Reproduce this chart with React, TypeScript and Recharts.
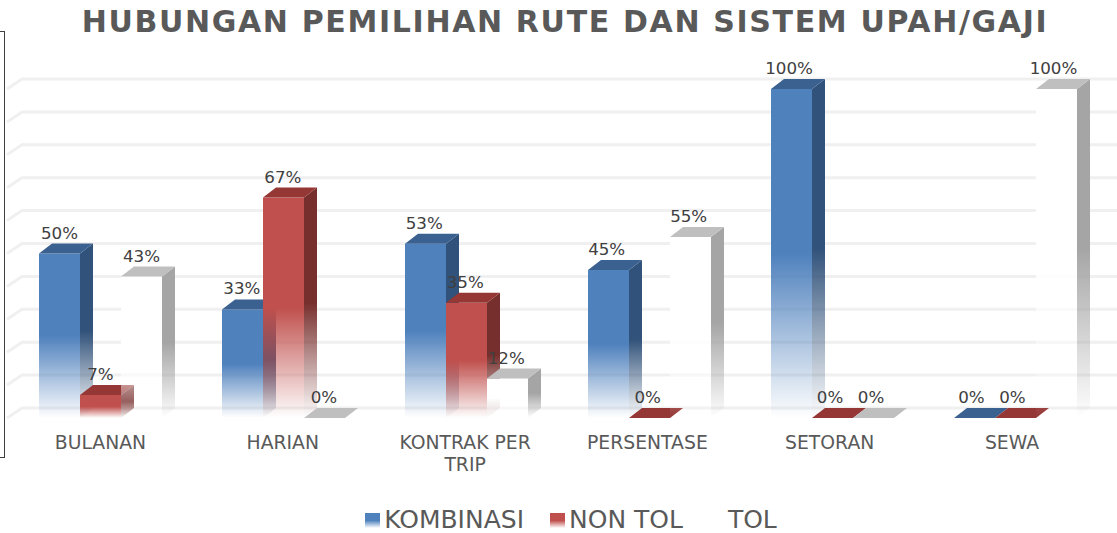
// Grouped 3D-look column chart: route choice against wage system.
import { BarChart, Bar, XAxis, YAxis, ReferenceLine, LabelList, Legend, Text } from "recharts";

const categories = ["BULANAN", "HARIAN", "KONTRAK PER TRIP", "PERSENTASE", "SETORAN", "SEWA"];
const kombinasi = [50, 33, 53, 45, 100, 0];
const nonTol = [7, 67, 35, 0, 0, 0];
const tol = [43, 0, 12, 55, 0, 100];
const yTicks = [0, 10, 20, 30, 40, 50, 60, 70, 80, 90, 100];

const chartData = categories.map((name, i) => ({
  name,
  KOMBINASI: kombinasi[i],
  "NON TOL": nonTol[i],
  TOL: tol[i],
}));

const DX = 13;
const DY = 10;
const TEXT = "#595959";
const FONT = '"DejaVu Sans", Verdana, sans-serif';

const palette: Record<string, { front: string; side: string; top: string; id: string }> = {
  KOMBINASI: { front: "#4f81bd", side: "#31527a", top: "#3a6190", id: "blue" },
  "NON TOL": { front: "#c0504d", side: "#772f2d", top: "#953735", id: "red" },
  TOL: { front: "#ffffff", side: "#a5a5a5", top: "#bfbfbf", id: "white" },
};

function Fade({ id, color }: { id: string; color: string }) {
  return (
    <linearGradient id={id} x1="0" y1="0" x2="0" y2="1">
      <stop offset="0.5" stopColor={color} stopOpacity={1} />
      <stop offset="1" stopColor={color} stopOpacity={0} />
    </linearGradient>
  );
}

function Column3D(props: any) {
  const { x, y, width, height, series } = props;
  const c = palette[series];
  const right = x + width;
  const bottom = y + height;
  return (
    <g>
      {height > 0 && <rect x={x} y={y} width={width} height={height} fill={`url(#${c.id}-front)`} />}
      {height > 0 && (
        <path
          d={`M${right} ${y}L${right + DX} ${y - DY}L${right + DX} ${bottom - DY}L${right} ${bottom}Z`}
          fill={`url(#${c.id}-side)`}
        />
      )}
      <path d={`M${x} ${y}L${x + DX} ${y - DY}L${right + DX} ${y - DY}L${right} ${y}Z`} fill={c.top} />
    </g>
  );
}

function GridLine(props: any) {
  const { x1, x2, y1 } = props;
  return (
    <path
      d={`M${x1 - 2} ${y1}L${x1 + DX} ${y1 - DY}L${x2 + 20} ${y1 - DY}`}
      fill="none"
      stroke="#f0f0f0"
      strokeWidth={3}
    />
  );
}

function CategoryTick({ x, y, index, payload }: any) {
  return (
    <Text
      x={x - index * 0.7}
      y={y + 4}
      width={150}
      textAnchor="middle"
      verticalAnchor="start"
      lineHeight={22}
      fontSize={18.8}
      fontFamily={FONT}
      fill={TEXT}
    >
      {payload.value}
    </Text>
  );
}

function ValueLabel({ x, y, width, index, value }: any) {
  return (
    <text
      x={x + width / 2 - index * 0.6}
      y={y - 15}
      textAnchor="middle"
      fontSize={16.7}
      fontFamily={FONT}
      fill="#404040"
    >
      {`${value}%`}
    </text>
  );
}

function LegendRow({ payload }: any) {
  return (
    <div
      style={{
        display: "flex",
        justifyContent: "center",
        alignItems: "center",
        fontFamily: FONT,
        fontSize: 25,
        lineHeight: "26px",
        color: TEXT,
        paddingLeft: 51,
      }}
    >
      {payload.map((item: any) => {
        const c = palette[item.value];
        return (
          <span key={item.value} style={{ display: "flex", alignItems: "center", marginRight: 26 }}>
            <span
              style={{
                width: 15,
                height: 15,
                marginRight: 4,
                background: `linear-gradient(${c.front} 50%, #ffffff)`,
              }}
            />
            {item.value}
          </span>
        );
      })}
    </div>
  );
}

export default function App() {
  return (
    <div style={{ position: "absolute", left: 0, top: 0, width: 1117, height: 533, background: "#fff", overflow: "hidden" }}>
      <div
        style={{
          position: "absolute",
          left: 0,
          right: -13,
          top: 4,
          textAlign: "center",
          fontFamily: FONT,
          fontWeight: 700,
          fontSize: 30,
          letterSpacing: 1.65,
          color: TEXT,
          whiteSpace: "nowrap",
        }}
      >
        HUBUNGAN PEMILIHAN RUTE DAN SISTEM UPAH/GAJI
      </div>
      <div
        style={{
          position: "absolute",
          left: -1,
          top: 31,
          width: 4,
          height: 425,
          border: "1px solid #404040",
        }}
      />
      <BarChart
        width={1117}
        height={533}
        data={chartData}
        margin={{ top: 89, right: 10, bottom: 59, left: 9 }}
        barSize={41}
        barGap={0}
        style={{ position: "absolute", left: 0, top: 0 }}
      >
        <defs>
          {Object.values(palette).map((c) => (
            <Fade key={c.id + "f"} id={`${c.id}-front`} color={c.front} />
          ))}
          {Object.values(palette).map((c) => (
            <Fade key={c.id + "s"} id={`${c.id}-side`} color={c.side} />
          ))}
        </defs>
        {yTicks.map((v) => (
          <ReferenceLine
            key={v}
            y={v}
            ifOverflow="visible"
            zIndex={-50}
            shape={(p: any) => <GridLine {...p} />}
          />
        ))}
        <XAxis
          dataKey="name"
          axisLine={false}
          tickLine={false}
          interval={0}
          tickMargin={8}
          tick={<CategoryTick />}
        />
        <YAxis domain={[0, 100]} ticks={yTicks} interval={0} width={0} axisLine={false} tickLine={false} tick={false} />
        <Legend
          verticalAlign="bottom"
          content={<LegendRow />}
          wrapperStyle={{ top: 507, left: 0, width: 1117 }}
        />
        {Object.keys(palette).map((key) => (
          <Bar
            key={key}
            dataKey={key}
            isAnimationActive={false}
            shape={(p: any) => <Column3D {...p} series={key} />}
          >
            <LabelList dataKey={key} position="top" content={<ValueLabel />} />
          </Bar>
        ))}
      </BarChart>
    </div>
  );
}
